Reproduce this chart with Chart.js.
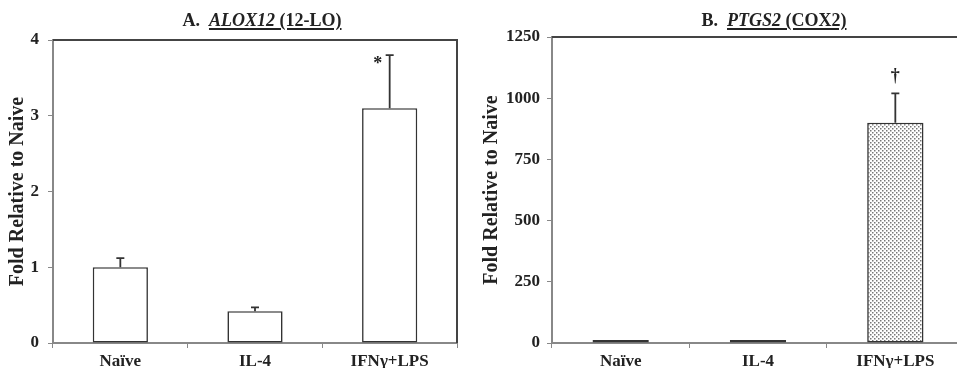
<!DOCTYPE html>
<html>
<head>
<meta charset="utf-8">
<script src="https://cdn.jsdelivr.net/npm/chart.js@4.4.1/dist/chart.umd.min.js"></script>
<style>
  html, body { margin: 0; padding: 0; background: #fff; overflow: hidden; width: 957px; height: 368px; }
  .panel { position: absolute; top: 0; height: 368px; }
  #panelA { left: 0; width: 480px; }
  #panelB { left: 480px; width: 500px; }
  .ttl { position: absolute; top: 11px; font: bold 18px "Liberation Serif", "Times New Roman", serif;
         line-height: 18px; white-space: pre; transform: translateX(-50%); color: #222; }
  .ttl u { text-decoration-thickness: 1.5px; text-underline-offset: 2px; }
</style>
</head>
<body>
<div class="panel" id="panelA">
  <canvas id="chartA" width="480" height="368"></canvas>
  <div class="ttl" style="left:262px">A.  <u><i>ALOX12</i> (12-LO)</u></div>
</div>
<div class="panel" id="panelB">
  <canvas id="chartB" width="500" height="368"></canvas>
  <div class="ttl" style="left:294px">B.  <u><i>PTGS2</i> (COX2)</u></div>
</div>
<script>
// data
const groups = ["Naïve", "IL-4", "IFNγ+LPS"];

const aloxMean = [1.0, 0.42, 3.1];
const aloxErr = [0.12, 0.05, 0.7];
const aloxMarks = ["", "", "*"];
const aloxTicks = [0, 1, 2, 3, 4];

const ptgsMean = [1, 1.5, 900];
const ptgsErr = [0, 0, 120];
const ptgsMarks = ["", "", "†"];
const ptgsTicks = [0, 250, 500, 750, 1000, 1250];

const SERIF = "'Liberation Serif', 'Times New Roman', serif";

// stippled fill for the IFNg+LPS bar in panel B
function stipple() {
  const c = document.createElement("canvas");
  c.width = 4; c.height = 4;
  const g = c.getContext("2d");
  g.fillStyle = "#fff";
  g.fillRect(0, 0, 4, 4);
  g.fillStyle = "#777";
  g.fillRect(0, 0, 1.5, 1.5);
  g.fillRect(2, 2, 1.5, 1.5);
  return g.createPattern(c, "repeat");
}

// frame (top/right), error bars and significance marks
const extras = {
  id: "extras",
  afterDatasetsDraw(chart, args, opts) {
    const ctx = chart.ctx;
    const area = chart.chartArea;
    const y = chart.scales.y;
    ctx.save();
    ctx.strokeStyle = "#444";
    ctx.lineWidth = 2;
    ctx.beginPath();
    ctx.moveTo(area.left, area.top);
    ctx.lineTo(area.right, area.top);
    ctx.lineTo(area.right, area.bottom);
    ctx.stroke();

    const meta = chart.getDatasetMeta(0);
    ctx.strokeStyle = "#333";
    ctx.lineWidth = 1.8;
    opts.errors.forEach((err, i) => {
      const bar = meta.data[i];
      const top = y.getPixelForValue(opts.means[i] + err);
      if (err > 0) {
        ctx.beginPath();
        ctx.moveTo(bar.x, bar.y);
        ctx.lineTo(bar.x, top);
        ctx.moveTo(bar.x - 4, top);
        ctx.lineTo(bar.x + 4, top);
        ctx.stroke();
      }
      if (opts.marks[i]) {
        ctx.fillStyle = "#222";
        ctx.font = "bold 18px " + SERIF;
        ctx.textAlign = "center";
        ctx.textBaseline = "middle";
        ctx.fillText(opts.marks[i], bar.x + opts.markDx, top + opts.markDy);
      }
    });
    ctx.restore();
  }
};

function makeChart(id, means, errors, marks, ticks, fills, o) {
  return new Chart(document.getElementById(id), {
    type: "bar",
    data: {
      labels: groups,
      datasets: [{
        data: means,
        backgroundColor: fills,
        borderColor: "#333",
        borderWidth: 1.6,
        borderSkipped: false,
        barPercentage: 0.41,
        categoryPercentage: 1,
        minBarLength: o.minBar
      }]
    },
    options: {
      responsive: false,
      animation: false,
      layout: { padding: { left: 0, top: o.top, right: o.right, bottom: 0 } },
      plugins: {
        legend: { display: false },
        tooltip: { enabled: false },
        extras: { means: means, errors: errors, marks: marks, markDx: o.markDx, markDy: o.markDy }
      },
      scales: {
        x: {
          grid: { display: true, drawOnChartArea: false, tickLength: 5, color: "#888", offset: true },
          border: { color: "#888", width: 2 },
          ticks: { color: "#222", padding: 3, font: { family: SERIF, size: 17, weight: "bold" } },
          afterFit(s) { s.height = 25; }
        },
        y: {
          min: ticks[0],
          max: ticks[ticks.length - 1],
          afterBuildTicks(s) { s.ticks = ticks.map(v => ({ value: v })); },
          grid: { display: true, drawOnChartArea: false, tickLength: 5, color: "#888" },
          border: { color: "#888", width: 2 },
          ticks: {
            color: "#222", padding: o.tickPad,
            font: { family: SERIF, size: 17, weight: "bold" },
            callback: v => String(v)
          },
          title: {
            display: true,
            text: "Fold Relative to Naive",
            color: "#222",
            padding: { top: o.titlePad, bottom: 0 },
            font: { family: SERIF, size: 20, weight: "bold" }
          },
          afterFit(s) { s.width = o.yWidth; }
        }
      }
    },
    plugins: [extras]
  });
}

makeChart("chartA", aloxMean, aloxErr, aloxMarks, aloxTicks, "#fff",
  { top: 40, right: 23, yWidth: 53, tickPad: 9, titlePad: 6, minBar: 0, markDx: -12, markDy: 9 });

makeChart("chartB", ptgsMean, ptgsErr, ptgsMarks, ptgsTicks, ["#fff", "#fff", stipple()],
  { top: 37, right: 16, yWidth: 72, tickPad: 7, titlePad: 0, minBar: 3, markDx: 0, markDy: -17 });
</script>
</body>
</html>
